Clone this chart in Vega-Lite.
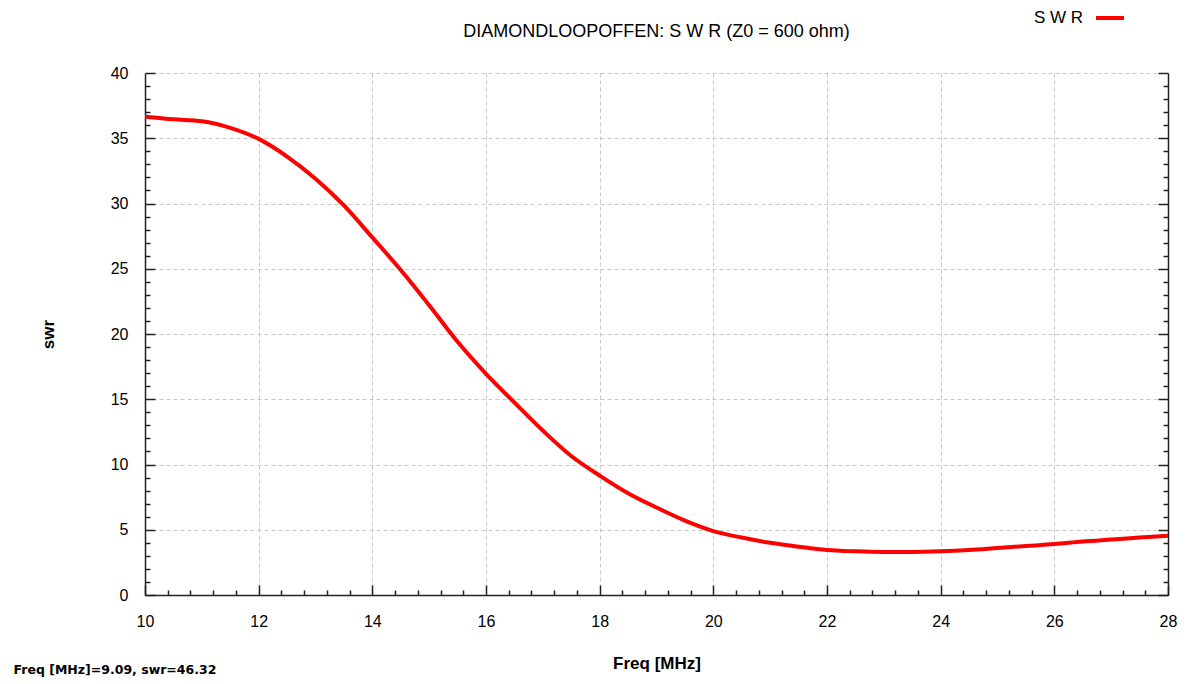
{
  "$schema": "https://vega.github.io/schema/vega-lite/v6.json",
  "width": 1023,
  "height": 522,
  "autosize": {"type": "none"},
  "padding": {"left": 145, "top": 73, "right": 20, "bottom": 89},
  "background": "white",
  "config": {"view": {"stroke": null}},
  "title": {
    "text": "DIAMONDLOOPOFFEN: S W R (Z0 = 600 ohm)",
    "font": "Liberation Sans",
    "fontSize": 18,
    "fontWeight": "normal",
    "color": "#000000",
    "anchor": "middle",
    "frame": "group",
    "offset": -39
  },
  "data": {
    "values": [
      {"freq": 10.0, "swr": 36.65, "series": "S W R"},
      {"freq": 10.5, "swr": 36.45, "series": "S W R"},
      {"freq": 11.0, "swr": 36.3, "series": "S W R"},
      {"freq": 11.5, "swr": 35.8, "series": "S W R"},
      {"freq": 12.0, "swr": 34.95, "series": "S W R"},
      {"freq": 12.5, "swr": 33.6, "series": "S W R"},
      {"freq": 13.0, "swr": 31.9, "series": "S W R"},
      {"freq": 13.5, "swr": 29.85, "series": "S W R"},
      {"freq": 14.0, "swr": 27.4, "series": "S W R"},
      {"freq": 14.5, "swr": 24.9, "series": "S W R"},
      {"freq": 15.0, "swr": 22.2, "series": "S W R"},
      {"freq": 15.5, "swr": 19.4, "series": "S W R"},
      {"freq": 16.0, "swr": 16.95, "series": "S W R"},
      {"freq": 16.5, "swr": 14.75, "series": "S W R"},
      {"freq": 17.0, "swr": 12.6, "series": "S W R"},
      {"freq": 17.5, "swr": 10.65, "series": "S W R"},
      {"freq": 18.0, "swr": 9.15, "series": "S W R"},
      {"freq": 18.5, "swr": 7.8, "series": "S W R"},
      {"freq": 19.0, "swr": 6.7, "series": "S W R"},
      {"freq": 19.5, "swr": 5.7, "series": "S W R"},
      {"freq": 20.0, "swr": 4.9, "series": "S W R"},
      {"freq": 20.5, "swr": 4.4, "series": "S W R"},
      {"freq": 21.0, "swr": 4.0, "series": "S W R"},
      {"freq": 21.5, "swr": 3.7, "series": "S W R"},
      {"freq": 22.0, "swr": 3.45, "series": "S W R"},
      {"freq": 22.5, "swr": 3.35, "series": "S W R"},
      {"freq": 23.0, "swr": 3.3, "series": "S W R"},
      {"freq": 23.5, "swr": 3.3, "series": "S W R"},
      {"freq": 24.0, "swr": 3.35, "series": "S W R"},
      {"freq": 24.5, "swr": 3.45, "series": "S W R"},
      {"freq": 25.0, "swr": 3.6, "series": "S W R"},
      {"freq": 25.5, "swr": 3.75, "series": "S W R"},
      {"freq": 26.0, "swr": 3.9, "series": "S W R"},
      {"freq": 26.5, "swr": 4.1, "series": "S W R"},
      {"freq": 27.0, "swr": 4.25, "series": "S W R"},
      {"freq": 27.5, "swr": 4.4, "series": "S W R"},
      {"freq": 28.0, "swr": 4.55, "series": "S W R"}
    ]
  },
  "layer": [
    {
      "mark": {"type": "line", "strokeWidth": 4, "interpolate": "monotone", "clip": true},
      "encoding": {
        "x": {
          "field": "freq", "type": "quantitative",
          "scale": {"domain": [10, 28], "nice": false, "zero": false},
          "axis": {
            "orient": "bottom",
            "values": [10, 12, 14, 16, 18, 20, 22, 24, 26, 28],
            "format": "d",
            "grid": true, "gridColor": "#c8c8c8", "gridDash": [4, 3], "gridWidth": 1,
            "domain": true, "domainColor": "#222222", "domainWidth": 1.5,
            "ticks": true, "tickSize": -10, "tickColor": "#222222", "tickWidth": 1.5,
            "labelFont": "Liberation Sans", "labelFontSize": 16, "labelColor": "#000000",
            "labelPadding": 28, "labelFlush": false, "labelOverlap": false,
            "title": "Freq [MHz]",
            "titleFont": "Liberation Sans", "titleFontSize": 17, "titleFontWeight": "bold",
            "titleColor": "#000000", "titleY": 68, "titleBaseline": "middle"
          }
        },
        "y": {
          "field": "swr", "type": "quantitative",
          "scale": {"domain": [0, 40], "nice": false},
          "axis": {
            "orient": "left",
            "values": [0, 5, 10, 15, 20, 25, 30, 35, 40],
            "grid": true, "gridColor": "#c8c8c8", "gridDash": [4, 3], "gridWidth": 1,
            "domain": true, "domainColor": "#222222", "domainWidth": 1.5,
            "ticks": true, "tickSize": -10, "tickColor": "#222222", "tickWidth": 1.5,
            "labelFont": "Liberation Sans", "labelFontSize": 16, "labelColor": "#000000",
            "labelPadding": 27, "labelFlush": false, "labelOverlap": false,
            "title": "swr",
            "titleFont": "Liberation Sans", "titleFontSize": 17, "titleFontWeight": "bold",
            "titleColor": "#000000", "titleX": -97, "titleY": 261, "titleBaseline": "middle"
          }
        },
        "color": {
          "field": "series", "type": "nominal",
          "scale": {"range": ["#ff0000"]},
          "legend": {
            "title": null,
            "orient": "none",
            "legendX": 949,
            "legendY": -71,
            "symbolType": "stroke",
            "symbolStrokeWidth": 4,
            "symbolSize": 784,
            "labelFont": "Liberation Sans",
            "labelFontSize": 17,
            "labelColor": "#000000",
            "labelAlign": "right",
            "labelOffset": -43
          }
        }
      }
    },
    {
      "mark": {"type": "point", "opacity": 0},
      "encoding": {
        "x": {
          "field": "freq", "type": "quantitative",
          "scale": {"domain": [10, 28], "nice": false, "zero": false},
          "axis": {
            "orient": "bottom",
            "values": [10.4, 10.8, 11.2, 11.6, 12.4, 12.8, 13.2, 13.6, 14.4, 14.8, 15.2, 15.6, 16.4, 16.8, 17.2, 17.6, 18.4, 18.8, 19.2, 19.6, 20.4, 20.8, 21.2, 21.6, 22.4, 22.8, 23.2, 23.6, 24.4, 24.8, 25.2, 25.6, 26.4, 26.8, 27.2, 27.6],
            "grid": false, "domain": false, "labels": false,
            "ticks": true, "tickSize": -5, "tickColor": "#222222", "tickWidth": 1.5,
            "title": "Freq [MHz]=9.09, swr=46.32",
            "titleFont": "DejaVu Sans", "titleFontSize": 12.5, "titleFontWeight": "bold",
            "titleColor": "#000000", "titleX": -132, "titleY": 74,
            "titleAlign": "left", "titleBaseline": "middle"
          }
        },
        "y": {
          "field": "swr", "type": "quantitative",
          "scale": {"domain": [0, 40], "nice": false},
          "axis": {
            "orient": "left",
            "values": [1, 2, 3, 4, 6, 7, 8, 9, 11, 12, 13, 14, 16, 17, 18, 19, 21, 22, 23, 24, 26, 27, 28, 29, 31, 32, 33, 34, 36, 37, 38, 39],
            "grid": false, "domain": false, "labels": false,
            "ticks": true, "tickSize": -5, "tickColor": "#222222", "tickWidth": 1.5,
            "title": null
          }
        }
      }
    },
    {
      "mark": {"type": "point", "opacity": 0},
      "encoding": {
        "y": {
          "field": "swr", "type": "quantitative",
          "scale": {"domain": [0, 40], "nice": false},
          "axis": {
            "orient": "right",
            "values": [0, 5, 10, 15, 20, 25, 30, 35, 40],
            "grid": false, "labels": false,
            "domain": true, "domainColor": "#222222", "domainWidth": 1.5,
            "ticks": true, "tickSize": -10, "tickColor": "#222222", "tickWidth": 1.5,
            "title": null
          }
        }
      }
    },
    {
      "mark": {"type": "point", "opacity": 0},
      "encoding": {
        "y": {
          "field": "swr", "type": "quantitative",
          "scale": {"domain": [0, 40], "nice": false},
          "axis": {
            "orient": "right",
            "values": [1, 2, 3, 4, 6, 7, 8, 9, 11, 12, 13, 14, 16, 17, 18, 19, 21, 22, 23, 24, 26, 27, 28, 29, 31, 32, 33, 34, 36, 37, 38, 39],
            "grid": false, "labels": false, "domain": false,
            "ticks": true, "tickSize": -5, "tickColor": "#222222", "tickWidth": 1.5,
            "title": null
          }
        }
      }
    }
  ],
  "resolve": {"axis": {"x": "independent", "y": "independent"}}
}
